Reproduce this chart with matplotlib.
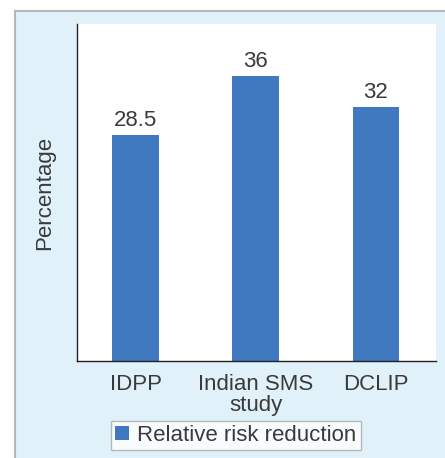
import matplotlib
matplotlib.use("Agg")
import matplotlib.pyplot as plt
from matplotlib.patches import Rectangle

categories = ["IDPP", "Indian SMS\nstudy", "DCLIP"]
values = [28.5, 36, 32]
value_labels = ["28.5", "36", "32"]
series_name = "Relative risk reduction"

plt.rcParams['font.family'] = ['Liberation Sans', 'DejaVu Sans']

W, H = 445, 458
FS = 16
fig = plt.figure(figsize=(W / 100, H / 100), dpi=100)
fig.patch.set_facecolor("white")

# light blue panel behind the chart
panel = Rectangle((14.5 / W, -0.05), 1.0, (H - 11) / H + 0.05,
                  transform=fig.transFigure, facecolor="#e0f1fa",
                  edgecolor="#b4b8bc", linewidth=1.5, zorder=-5)
fig.patches.append(panel)

ax = fig.add_axes([77 / W, (H - 361) / H, (436 - 77) / W, (361 - 24) / H])
ax.set_zorder(1)
ax.set_facecolor("white")
text_color = "#3a3a3a"
bar_color = "#4079bf"

x = range(len(categories))
bars = ax.bar(x, values, width=0.39, color=bar_color, label=series_name, zorder=2)
for xi, v, lab in zip(x, values, value_labels):
    ax.annotate(lab, (xi, v), xytext=(0, 6.5), textcoords="offset points",
                ha="center", va="baseline", fontsize=FS, color=text_color)

ax.set_xlim(-0.49, 2.5)
ax.set_ylim(0, 42.5)
ax.set_xticks(list(x))
ax.set_xticklabels(categories, fontsize=FS, color=text_color, linespacing=1.0)
ax.set_yticks([])
ax.tick_params(axis="x", length=0, pad=9)
for side in ("top", "right"):
    ax.spines[side].set_visible(False)
ax.spines["left"].set_color("#222222")
ax.spines["bottom"].set_color("#222222")
ax.spines["left"].set_linewidth(1.0)
ax.spines["bottom"].set_linewidth(1.0)
ax.set_ylabel("Percentage", fontsize=FS, color=text_color)
ax.yaxis.set_label_coords(-0.06, 0.5)

leg = fig.legend(handles=[bars], labels=[series_name], loc="center",
                 bbox_to_anchor=(236 / W, (H - 435.5) / H), fontsize=FS,
                 frameon=True, fancybox=False, handlelength=0.6, handleheight=0.55,
                 handletextpad=0.4, borderpad=0.2, borderaxespad=0)
leg.set_zorder(2)
leg.get_frame().set_edgecolor("#a8a8a8")
leg.get_frame().set_linewidth(1.0)
for t in leg.get_texts():
    t.set_color(text_color)

fig.savefig("out.png", dpi=100)
